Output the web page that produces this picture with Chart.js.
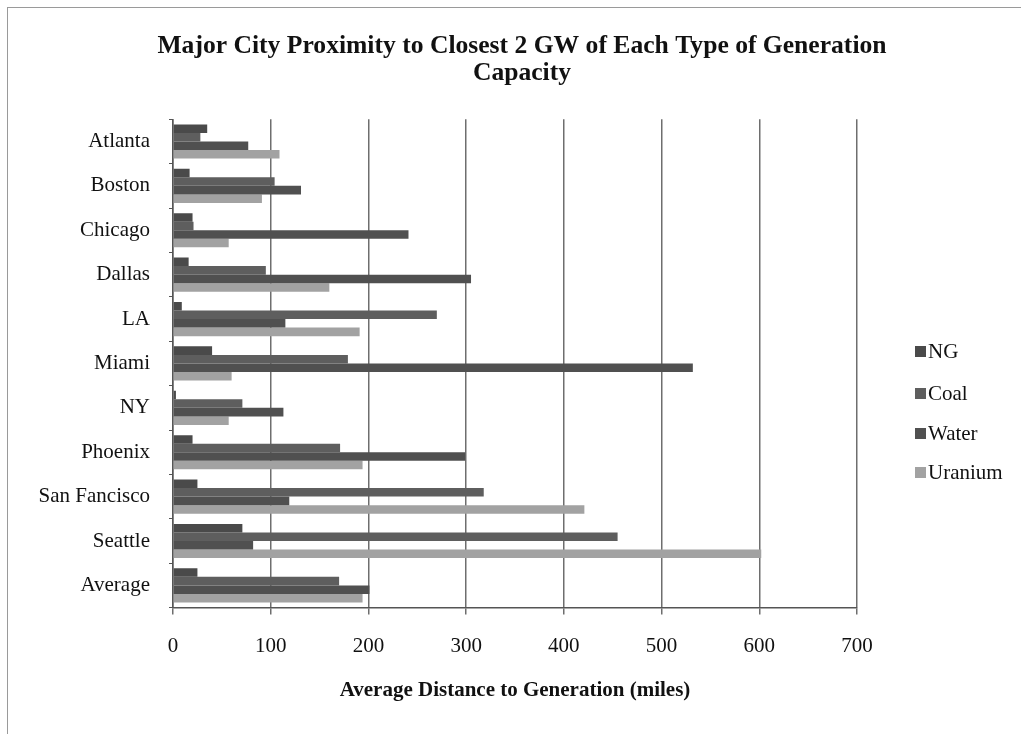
<!DOCTYPE html>
<html>
<head>
<meta charset="utf-8">
<script src="https://cdn.jsdelivr.net/npm/chart.js@4/dist/chart.umd.min.js"></script>
<style>
  html, body { margin: 0; padding: 0; background: #fff; }
  #wrap { position: relative; width: 1021px; height: 734px; overflow: hidden;
          font-family: 'Liberation Serif', 'Times New Roman', serif; }
  #frame { position: absolute; left: 7px; top: 7px; right: -4px; bottom: -4px;
           border-left: 1px solid #9a9a9a; border-top: 1px solid #9a9a9a; }
  canvas { position: absolute; left: 0; top: 0; }
  #legend { position: absolute; left: 915px; top: 0; }
  .item { position: absolute; left: 0; white-space: nowrap; font-size: 21px; color: #111;
          line-height: 24px; height: 24px; }
  .sw { position: absolute; left: 0; top: 7px; width: 11px; height: 11px; }
  .tx { position: absolute; left: 13px; top: 0; }
</style>
</head>
<body>
<div id="wrap">
  <div id="frame"></div>
  <canvas id="c" width="1021" height="734"></canvas>
  <div id="legend"></div>
</div>
<script>
// Cities and the average distance (miles) to the nearest 2 GW of each generation type
const cities = ['Atlanta', 'Boston', 'Chicago', 'Dallas', 'LA', 'Miami', 'NY', 'Phoenix', 'San Fancisco', 'Seattle', 'Average'];
const ngMiles      = [35, 17, 20, 16, 9, 40, 3, 20, 25, 71, 25];
const coalMiles    = [28, 104, 21, 95, 270, 179, 71, 171, 318, 455, 170];
const waterMiles   = [77, 131, 241, 305, 115, 532, 113, 299, 119, 82, 201];
const uraniumMiles = [109, 91, 57, 160, 191, 60, 57, 194, 421, 602, 194];
const xTicks = [0, 100, 200, 300, 400, 500, 600, 700];

const serif = "'Liberation Serif', 'Times New Roman', serif";

const chart = new Chart(document.getElementById('c'), {
  type: 'bar',
  data: {
    labels: cities,
    datasets: [
      { label: 'NG', data: ngMiles, backgroundColor: '#4a4a4a' },
      { label: 'Coal', data: coalMiles, backgroundColor: '#5e5e5e' },
      { label: 'Water', data: waterMiles, backgroundColor: '#505050' },
      { label: 'Uranium', data: uraniumMiles, backgroundColor: '#a2a2a2' }
    ]
  },
  options: {
    indexAxis: 'y',
    responsive: false,
    animation: false,
    categoryPercentage: 0.77,
    barPercentage: 1.0,
    layout: { padding: { left: 23, right: 0, top: 0, bottom: 31 } },
    plugins: {
      title: {
        display: true,
        text: ['Major City Proximity to Closest 2 GW of Each Type of Generation', 'Capacity'],
        color: '#111',
        font: { family: serif, size: 25.6, weight: 'bold', lineHeight: 1.06 },
        padding: { top: 33, bottom: 32 }
      },
      legend: { display: false },
      tooltip: { enabled: false }
    },
    scales: {
      x: {
        min: 0,
        max: 700,
        afterBuildTicks: (scale) => { scale.ticks = xTicks.map(v => ({ value: v })); },
        // keep room on the right for the series key
        afterFit: (scale) => { scale.paddingRight = 164; },
        grid: { color: '#6e6e6e', lineWidth: 1.5, tickLength: 7, drawTicks: true },
        border: { color: '#555', width: 1.5 },
        ticks: { color: '#111', font: { family: serif, size: 21 }, padding: 19 },
        title: {
          display: true,
          text: 'Average Distance to Generation (miles)',
          color: '#111',
          font: { family: serif, size: 21, weight: 'bold' },
          padding: { top: 0, bottom: 0 }
        }
      },
      y: {
        afterFit: (scale) => { scale.width = 150; },
        grid: { drawOnChartArea: false, tickLength: 4, color: '#555', offset: true },
        border: { color: '#555', width: 1.5 },
        ticks: { color: '#111', font: { family: serif, size: 21 }, padding: 19 }
      }
    }
  }
});

// Series key on the right, built from the chart's datasets
const rowCenters = [351, 393, 433, 472];
const legend = document.getElementById('legend');
chart.data.datasets.forEach((ds, i) => {
  const item = document.createElement('div');
  item.className = 'item';
  item.style.top = (rowCenters[i] - 12) + 'px';
  const sw = document.createElement('span');
  sw.className = 'sw';
  sw.style.background = ds.backgroundColor;
  const tx = document.createElement('span');
  tx.className = 'tx';
  tx.textContent = ds.label;
  item.appendChild(sw);
  item.appendChild(tx);
  legend.appendChild(item);
});
</script>
</body>
</html>
